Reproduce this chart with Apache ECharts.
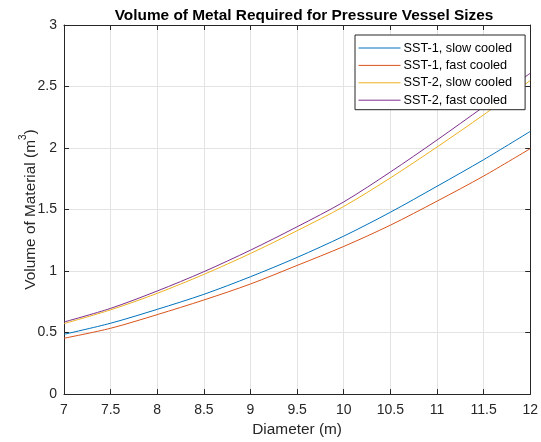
<!DOCTYPE html>
<html>
<head>
<meta charset="utf-8">
<title>Volume of Metal Required for Pressure Vessel Sizes</title>
<script src="https://cdn.jsdelivr.net/npm/echarts@6/dist/echarts.min.js"></script>
<style>
    html, body { margin: 0; padding: 0; background: #fff; }
    #chart_div { width: 541px; height: 442px; }
</style>
</head>
<body>
<div id="chart_div"></div>
<script>
    // diameters (m) the values were read at
    var diameters = [7, 7.5, 8, 8.5, 9, 9.5, 10, 10.5, 11, 11.5, 12];

    // volume of material (m^3)
    var sst1Slow = [0.486, 0.576, 0.689, 0.811, 0.954, 1.111, 1.284, 1.478, 1.689, 1.905, 2.135];
    var sst1Fast = [0.454, 0.535, 0.646, 0.765, 0.895, 1.046, 1.200, 1.373, 1.568, 1.772, 1.995];
    var sst2Slow = [0.573, 0.685, 0.819, 0.973, 1.143, 1.328, 1.525, 1.757, 2.008, 2.270, 2.549];
    var sst2Fast = [0.586, 0.697, 0.838, 0.995, 1.170, 1.360, 1.562, 1.805, 2.065, 2.335, 2.608];

    var seriesNames = ['SST-1, slow cooled', 'SST-1, fast cooled', 'SST-2, slow cooled', 'SST-2, fast cooled'];
    var seriesColors = ['#0072BD', '#D95319', '#EDB120', '#7E2F8E'];
    var seriesValues = [sst1Slow, sst1Fast, sst2Slow, sst2Fast];

    var axisColor = '#262626';
    var gridColor = '#e3e3e3';
    var fontFamily = 'Liberation Sans, Arial, sans-serif';

    function pairs(values) {
        return diameters.map(function (d, i) { return [d, values[i]]; });
    }

    var myChart = echarts.init(document.getElementById('chart_div'));
    myChart.setOption({
        animation: false,
        backgroundColor: '#fff',
        textStyle: { fontFamily: fontFamily },
        title: {
            text: 'Volume of Metal Required for Pressure Vessel Sizes',
            left: 299,
            textAlign: 'center',
            top: 3,
            textStyle: { fontSize: 15.4, fontWeight: 'bold', color: '#000', fontFamily: fontFamily }
        },
        grid: { left: 64, right: 8, top: 25, bottom: 47 },
        legend: {
            orient: 'vertical',
            left: 355,
            top: 35,
            itemWidth: 42,
            itemHeight: 12,
            itemGap: 4.4,
            padding: [6.5, 13, 3, 3],
            backgroundColor: '#fff',
            borderColor: axisColor,
            borderWidth: 1,
            borderRadius: 0,
            itemStyle: { opacity: 0 },
            lineStyle: { width: 1 },
            textStyle: { fontSize: 12.7, color: '#000', fontFamily: fontFamily, padding: [0, 0, 0, -2] },
            data: seriesNames
        },
        xAxis: [
            {
                type: 'value',
                min: 7, max: 12, interval: 0.5,
                name: 'Diameter (m)',
                nameLocation: 'middle',
                nameGap: 27,
                nameTextStyle: { fontSize: 15.4, color: axisColor },
                axisLine: { show: true, onZero: false, lineStyle: { color: axisColor, width: 1 } },
                axisTick: { show: true, inside: true, length: 5, lineStyle: { color: axisColor } },
                axisLabel: { fontSize: 14, color: axisColor, margin: 9 },
                splitLine: { show: true, lineStyle: { color: gridColor, width: 1 } }
            },
            {
                type: 'value',
                position: 'top',
                min: 7, max: 12, interval: 0.5,
                axisLine: { show: true, onZero: false, lineStyle: { color: axisColor, width: 1 } },
                axisTick: { show: true, inside: true, length: 5, lineStyle: { color: axisColor } },
                axisLabel: { show: false },
                splitLine: { show: false }
            }
        ],
        yAxis: [
            {
                type: 'value',
                min: 0, max: 3, interval: 0.5,
                name: '{a|Volume of Material (m}{s|3}{a|)}',
                nameLocation: 'middle',
                nameGap: 26,
                nameMoveOverlap: false,
                nameTextStyle: {
                    color: axisColor,
                    rich: {
                        a: { fontSize: 15.4, color: axisColor, fontFamily: fontFamily, lineHeight: 20, verticalAlign: 'bottom' },
                        s: { fontSize: 10, color: axisColor, fontFamily: fontFamily, lineHeight: 20, verticalAlign: 'top' }
                    }
                },
                axisLine: { show: true, onZero: false, lineStyle: { color: axisColor, width: 1 } },
                axisTick: { show: true, inside: true, length: 5, lineStyle: { color: axisColor } },
                axisLabel: { fontSize: 14, color: axisColor, margin: 7 },
                splitLine: { show: true, lineStyle: { color: gridColor, width: 1 } }
            },
            {
                type: 'value',
                position: 'right',
                min: 0, max: 3, interval: 0.5,
                axisLine: { show: true, onZero: false, lineStyle: { color: axisColor, width: 1 } },
                axisTick: { show: true, inside: true, length: 5, lineStyle: { color: axisColor } },
                axisLabel: { show: false },
                splitLine: { show: false }
            }
        ],
        series: seriesNames.map(function (name, i) {
            return {
                name: name,
                type: 'line',
                xAxisIndex: 0,
                yAxisIndex: 0,
                smooth: 0.3,
                symbol: 'none',
                color: seriesColors[i],
                lineStyle: { width: 1, color: seriesColors[i] },
                data: pairs(seriesValues[i])
            };
        })
    });
</script>
</body>
</html>
